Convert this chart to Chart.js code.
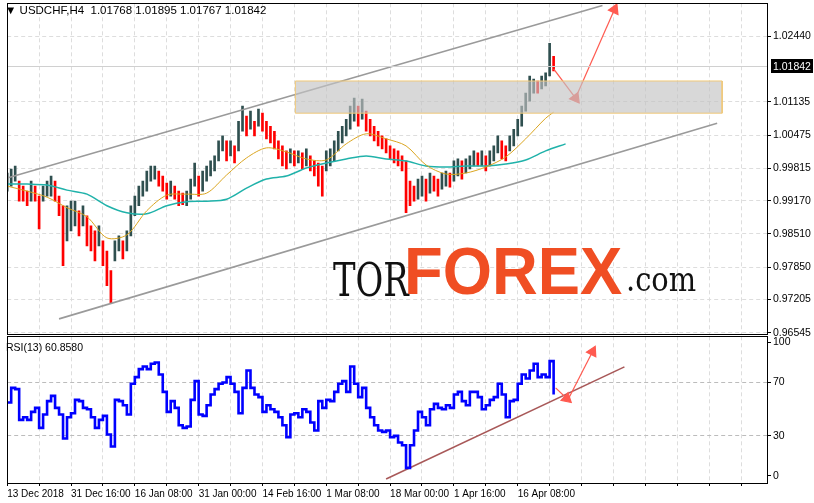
<!DOCTYPE html>
<html><head><meta charset="utf-8">
<script src="https://cdn.jsdelivr.net/npm/chart.js@4"></script>
<style>
body{margin:0;background:#fff;width:814px;height:503px;overflow:hidden;position:relative;font-family:"DejaVu Sans",sans-serif}
#c1{position:absolute;left:0;top:-5px}
#c2{position:absolute;left:0;top:328px}
.t{position:absolute;font-size:11px;color:#000;white-space:nowrap;font-family:"Liberation Sans",sans-serif}
.w{position:absolute;white-space:nowrap;line-height:1;transform-origin:0 0}
</style></head><body>
<canvas id="c1" width="814" height="348"></canvas>
<canvas id="c2" width="814" height="176"></canvas>
<div class="t" style="left:5px;top:4px;font-size:11.5px">&#9660; USDCHF,H4&nbsp; 1.01768 1.01895 1.01767 1.01842</div>
<div class="t" style="left:6px;top:341px;font-size:10.5px">RSI(13) 60.8580</div>
<div class="w" style="left:333px;top:256px;font-family:'DejaVu Serif',serif;font-size:47px;color:#111;transform:scaleX(0.72)">TOR</div>
<div class="w" style="left:404px;top:238px;font-family:'Liberation Sans',sans-serif;font-weight:bold;font-size:66px;color:#F04E23;transform:scaleX(0.96)">FOREX</div>
<div class="w" style="left:626px;top:262px;font-family:'DejaVu Serif',serif;font-size:34px;color:#111;transform:scaleX(0.85)">.com</div>
<script>
const priceTicks=[1.02440,1.01135,1.00475,0.99815,0.99170,0.98510,0.97850,0.97205,0.96545];
const rsiTicks=[100,70,30,0];
const dateLabels=["13 Dec 2018","31 Dec 16:00","16 Jan 08:00","31 Jan 00:00","14 Feb 16:00","1 Mar 08:00","18 Mar 00:00","1 Apr 16:00","16 Apr 08:00"];
const lastPrice=1.01842;
const hi=[0.9972,0.9980,0.9986,0.9956,0.9946,0.9936,0.9956,0.9946,0.9926,0.9946,0.9956,0.9966,0.9956,0.9926,0.9907,0.9907,0.9916,0.9916,0.9897,0.9907,0.9887,0.9867,0.9857,0.9867,0.9837,0.9817,0.9778,0.9837,0.9847,0.9837,0.9857,0.9907,0.9926,0.9946,0.9956,0.9976,0.9986,0.9986,0.9976,0.9966,0.9952,0.9956,0.9946,0.9936,0.9932,0.9936,0.9960,0.9992,0.9966,0.9976,0.9986,0.9996,1.0006,1.0036,1.0046,1.0036,1.0036,1.0026,1.0075,1.0105,1.0085,1.0095,1.0075,1.0099,1.0091,1.0075,1.0065,1.0055,1.0036,1.0026,1.0016,1.0020,1.0016,1.0016,1.0012,1.0020,1.0006,0.9996,0.9992,0.9986,1.0016,1.0020,1.0036,1.0055,1.0065,1.0079,1.0105,1.0121,1.0105,1.0119,1.0095,1.0079,1.0065,1.0055,1.0046,1.0040,1.0026,1.0020,1.0016,1.0006,0.9996,0.9956,0.9946,0.9960,0.9966,0.9960,0.9972,0.9966,0.9960,0.9972,0.9976,0.9972,0.9996,1.0000,0.9996,1.0000,1.0006,1.0016,1.0012,1.0016,1.0006,1.0016,1.0026,1.0046,1.0036,1.0026,1.0046,1.0059,1.0079,1.0105,1.0131,1.0165,1.0159,1.0155,1.0165,1.0171,1.0230,1.0204];
const lo=[0.9936,0.9946,0.9956,0.9916,0.9916,0.9907,0.9916,0.9916,0.9861,0.9916,0.9926,0.9926,0.9916,0.9887,0.9788,0.9837,0.9857,0.9867,0.9847,0.9867,0.9827,0.9817,0.9797,0.9827,0.9788,0.9748,0.9714,0.9797,0.9817,0.9801,0.9817,0.9847,0.9887,0.9907,0.9926,0.9936,0.9956,0.9960,0.9946,0.9936,0.9920,0.9926,0.9920,0.9907,0.9909,0.9907,0.9920,0.9946,0.9926,0.9936,0.9956,0.9966,0.9976,0.9996,1.0016,0.9996,1.0006,0.9992,1.0016,1.0055,1.0046,1.0059,1.0046,1.0065,1.0055,1.0040,1.0032,1.0020,1.0000,0.9986,0.9980,0.9992,0.9986,0.9992,0.9980,0.9986,0.9976,0.9966,0.9946,0.9926,0.9976,0.9986,0.9996,1.0016,1.0032,1.0046,1.0059,1.0075,1.0065,1.0079,1.0055,1.0046,1.0036,1.0026,1.0020,1.0012,1.0000,0.9992,0.9986,0.9976,0.9893,0.9907,0.9916,0.9920,0.9926,0.9916,0.9932,0.9936,0.9926,0.9940,0.9946,0.9944,0.9956,0.9966,0.9960,0.9972,0.9980,0.9986,0.9986,0.9986,0.9976,0.9986,0.9996,1.0012,1.0000,0.9996,1.0016,1.0026,1.0046,1.0065,1.0095,1.0115,1.0131,1.0131,1.0139,1.0145,1.0165,1.0175];
const maFastIdx=[0,5,10,15,20,25,30,35,40,45,50,55,60,65,70,75,80,85,90,95,100,105,110,115,120,125,130,135,137];
const maFast=[0.9946,0.9936,0.9924,0.9903,0.9885,0.9843,0.9849,0.9897,0.9928,0.9930,0.9932,0.9968,1.0002,1.0022,1.0014,1.0000,0.9998,1.0030,1.0050,1.0040,1.0026,0.9988,0.9970,0.9972,0.9984,1.0004,1.0040,1.0081,1.0093];
const maSlowIdx=[0,5,10,15,20,25,30,35,40,45,50,55,60,65,70,75,80,85,90,95,100,105,110,115,120,125,130,135,140];
const maSlow=[0.9950,0.9950,0.9948,0.9938,0.9930,0.9907,0.9893,0.9891,0.9907,0.9915,0.9916,0.9920,0.9942,0.9960,0.9966,0.9982,0.9992,1.0000,1.0006,1.0000,0.9996,0.9986,0.9984,0.9986,0.9986,0.9990,0.9998,1.0016,1.0030];
const rsi=[55,66,65,42,44,42,48,51,36,46,56,60,51,46,28,44,47,57,56,51,50,44,36,42,45,31,22,57,56,53,46,69,74,80,82,80,84,85,76,63,48,56,51,38,36,37,57,71,46,45,53,61,65,69,70,74,69,63,47,66,79,66,61,59,48,53,50,48,44,38,29,46,47,44,50,48,40,34,56,51,57,56,63,69,71,63,82,69,59,66,51,44,38,34,33,34,29,30,25,23,6,23,34,48,44,38,50,54,51,50,53,51,61,63,56,53,63,63,59,50,53,57,59,69,61,44,56,57,69,76,73,79,84,74,76,74,86,61];
const channelUpper=[{x:0,y:0.9962},{x:149.25,y:1.0305}];
const channelLower=[{x:13,y:0.9682},{x:178,y:1.0071}];
const zoneBox=[{x:72.25,y:1.0155},{x:179.25,y:1.0155},{x:179.25,y:1.0091},{x:72.25,y:1.0091},{x:72.25,y:1.0155}];
const arrowDown=[{x:137,y:1.0179},{x:142.5,y:1.0121}];
const arrowUp=[{x:142.5,y:1.0121},{x:152.25,y:1.0297}];
const rsiTrend=[{x:95,y:-2.3},{x:154.75,y:81.7}];
const rsiArrowDown=[{x:137.5,y:66},{x:140.3,y:58}];
const rsiArrowUp=[{x:140.5,y:56.5},{x:146.75,y:93}];

const XMAX=190.5, AXW=47;
const FONT='Liberation Sans';
function xAxis(showLabels){return {type:'linear',min:0,max:XMAX,offset:false,
  afterBuildTicks:s=>{const t=[];for(let v=0;v<=XMAX;v+=8)t.push({value:v});s.ticks=t;},
  grid:{color:'#dddddd',drawTicks:showLabels,tickLength:3,tickColor:'#000',offset:false},border:{display:true,color:'#000',dash:[4,3]},
  ticks:{display:showLabels,autoSkip:false,maxRotation:0,align:'start',padding:2,color:'#000',font:{family:FONT,size:10},
    callback:v=>(v%16===0?dateLabels[v/16]||'':'')}};}

const candles=hi.map((h,i)=>({x:i,y:[lo[i],h]}));
const cols=hi.map((h,i)=>{if(i===0)return '#2F4F4F';const m=(h+lo[i])/2,p=(hi[i-1]+lo[i-1])/2;return m>=p?'#2F4F4F':'#FF0000';});

Chart.defaults.animation=false;
Chart.defaults.font.family=FONT;

const frame={id:'frame',afterDraw(c){const {ctx,chartArea:a}=c;ctx.save();ctx.strokeStyle='#000';ctx.lineWidth=1;ctx.strokeRect(Math.round(a.left)+0.5,Math.round(a.top)+0.5,Math.round(a.right-a.left),Math.round(a.bottom-a.top));ctx.restore();}};
const lastLine={id:'lastLine',afterDatasetsDraw(c){const {ctx,chartArea:a,scales:{y}}=c;const py=Math.round(y.getPixelForValue(lastPrice));
 ctx.save();ctx.strokeStyle='#d0d0d0';ctx.lineWidth=1;ctx.beginPath();ctx.moveTo(a.left,py+0.5);ctx.lineTo(a.right,py+0.5);ctx.stroke();ctx.restore();},
 afterDraw(c){const {ctx,chartArea:a,scales:{y}}=c;const py=Math.round(y.getPixelForValue(lastPrice));ctx.save();
 ctx.fillStyle='#000';ctx.fillRect(a.right+4,py-7,42,14);ctx.fillStyle='#fff';ctx.font='10.5px '+FONT;ctx.textBaseline='middle';ctx.fillText(lastPrice.toFixed(5),a.right+6,py+1);ctx.restore();}};

new Chart(document.getElementById('c1'),{type:'bar',
 data:{datasets:[
  {type:'line',data:zoneBox,showLine:true,borderColor:'#F0C878',borderWidth:1,backgroundColor:'rgba(195,195,195,0.65)',fill:'shape',pointRadius:0,order:0},
  {type:'line',data:arrowDown,borderColor:'#FF5A50',borderWidth:1.2,pointRadius:[0,6],pointStyle:'triangle',rotation:143,pointBackgroundColor:'#FF5A50',pointBorderColor:'#FF5A50',order:0},
  {type:'line',data:arrowUp,borderColor:'#FF5A50',borderWidth:1.2,pointRadius:[0,6],pointStyle:'triangle',rotation:24,pointBackgroundColor:'#FF5A50',pointBorderColor:'#FF5A50',order:0},
  {type:'line',data:channelUpper,borderColor:'#9a9a9a',borderWidth:1.6,pointRadius:0,order:3},
  {type:'line',data:channelLower,borderColor:'#9a9a9a',borderWidth:1.6,pointRadius:0,order:3},
  {type:'line',data:maFastIdx.map((x,i)=>({x,y:maFast[i]})),borderColor:'#DAA520',borderWidth:1,pointRadius:0,tension:0.3,order:2},
  {type:'line',data:maSlowIdx.map((x,i)=>({x,y:maSlow[i]})),borderColor:'#20B2AA',borderWidth:1.5,pointRadius:0,tension:0.3,order:2},
  {type:'bar',data:candles,backgroundColor:cols,barThickness:2,grouped:false,order:5}
 ]},
 options:{responsive:false,animation:false,events:[],layout:{padding:{left:2,top:2,right:0,bottom:2}},
  plugins:{legend:{display:false},tooltip:{enabled:false}},
  scales:{x:xAxis(false),
   y:{position:'right',min:0.96505,max:1.03095,afterFit:s=>{s.width=AXW;},
    afterBuildTicks:s=>{s.ticks=priceTicks.map(v=>({value:v}));},
    grid:{color:'#dddddd',tickLength:4,tickColor:'#000'},border:{color:'#000',dash:[4,3]},
    ticks:{color:'#000',padding:2,font:{size:10.5},callback:v=>v.toFixed(5)}}}},
 plugins:[lastLine,frame]});

new Chart(document.getElementById('c2'),{type:'line',
 data:{datasets:[
  {data:rsiTrend,borderColor:'#A85858',borderWidth:1.6,pointRadius:0,order:3},
  {data:rsi.map((v,i)=>({x:i,y:v})),borderColor:'#0000FF',borderWidth:2.6,pointRadius:0,stepped:true,order:1},
  {data:rsiArrowDown,borderColor:'#FF5A50',borderWidth:1.2,pointRadius:[0,6],pointStyle:'triangle',rotation:132,pointBackgroundColor:'#FF5A50',pointBorderColor:'#FF5A50',order:0},
  {data:rsiArrowUp,borderColor:'#FF5A50',borderWidth:1.2,pointRadius:[0,6],pointStyle:'triangle',rotation:27,pointBackgroundColor:'#FF5A50',pointBorderColor:'#FF5A50',order:0}
 ]},
 options:{responsive:false,animation:false,events:[],layout:{padding:{left:2,top:2,right:0,bottom:2}},
  plugins:{legend:{display:false},tooltip:{enabled:false}},
  scales:{x:xAxis(true),
   y:{position:'right',min:-5.3,max:104.6,afterFit:s=>{s.width=AXW;},
    afterBuildTicks:s=>{s.ticks=rsiTicks.map(v=>({value:v}));},
    grid:{color:c=>(c.tick&&(c.tick.value===70||c.tick.value===30))?'#bcbcbc':'rgba(0,0,0,0)',tickLength:4,tickColor:'#000'},border:{color:'#000',dash:[4,3]},
    ticks:{color:'#000',padding:2,font:{size:10.5}}}}},
 plugins:[frame]});
</script></body></html>
